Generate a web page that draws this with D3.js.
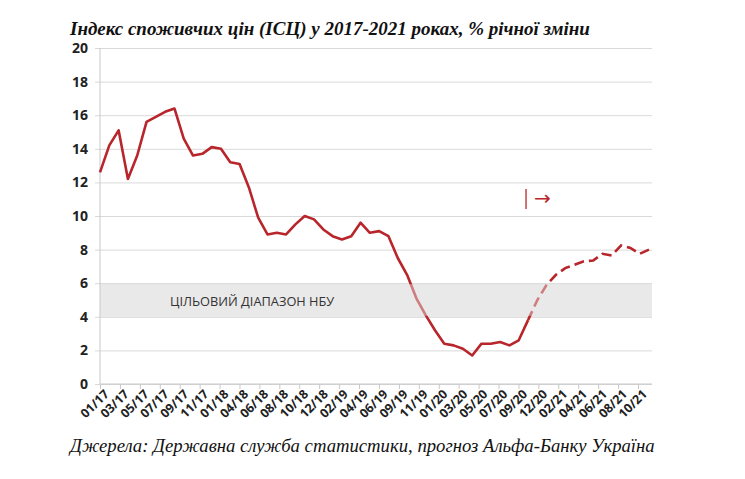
<!DOCTYPE html>
<html>
<head>
<meta charset="utf-8">
<script src="https://cdn.jsdelivr.net/npm/d3@7"></script>
<style>
  body { margin: 0; background: #fff; }
  svg { display: block; }
</style>
</head>
<body>
<div id="chart"></div>
<script>
// Monthly CPI, % y/y, Jan 2017 - Dec 2021 (from Nov 2020 - forecast)
var months = [
  '01/17','02/17','03/17','04/17','05/17','06/17','07/17','08/17','09/17','10/17','11/17','12/17',
  '01/18','02/18','03/18','04/18','05/18','06/18','07/18','08/18','09/18','10/18','11/18','12/18',
  '01/19','02/19','03/19','04/19','05/19','06/19','07/19','08/19','09/19','10/19','11/19','12/19',
  '01/20','02/20','03/20','04/20','05/20','06/20','07/20','08/20','09/20','10/20','11/20','12/20',
  '01/21','02/21','03/21','04/21','05/21','06/21','07/21','08/21','09/21','10/21','11/21','12/21'
];
var cpi = [
  12.6, 14.2, 15.1, 12.2, 13.6, 15.6, 15.9, 16.2, 16.4, 14.6, 13.6, 13.7,
  14.1, 14.0, 13.2, 13.1, 11.7, 9.9, 8.9, 9.0, 8.9, 9.5, 10.0, 9.8,
  9.2, 8.8, 8.6, 8.8, 9.6, 9.0, 9.1, 8.8, 7.5, 6.5, 5.1, 4.1,
  3.2, 2.4, 2.3, 2.1, 1.7, 2.4, 2.4, 2.5, 2.3, 2.6, 3.8, 5.0,
  5.9, 6.5, 6.9, 7.1, 7.3, 7.35, 7.75, 7.65, 8.25, 8.1, 7.75, 8.0
];
var forecastStart = '11/20';
var tickLabels = [
  '01/17','03/17','05/17','07/17','09/17','11/17','01/18','04/18','06/18','08/18',
  '10/18','12/18','02/19','04/19','06/19','09/19','11/19','01/20','03/20','05/20',
  '07/20','09/20','12/20','02/21','04/21','06/21','08/21','10/21'
];
var yTicks = [0, 2, 4, 6, 8, 10, 12, 14, 16, 18, 20];
var target = [4, 6];

var W = 745, H = 479;
var pLeft = 100, pRight = 652, pTop = 48, pBottom = 384;
var red = '#b8252b';

var data = months.map(function(m, i) { return {m: m, v: cpi[i]}; });
var fi = months.indexOf(forecastStart);

var svg = d3.select('#chart').append('svg')
  .attr('width', W).attr('height', H);

var x = d3.scalePoint().domain(months).range([pLeft, 649]);
var xt = d3.scalePoint().domain(tickLabels).range([pLeft, 638]);
var y = d3.scaleLinear().domain([0, 20]).range([pBottom, pTop]);

// title
svg.append('text')
  .attr('x', 70).attr('y', 35)
  .style('font-family', '"Liberation Serif", "Times New Roman", serif')
  .style('font-weight', 'bold').style('font-style', 'italic')
  .style('font-size', '19px').style('fill', '#111')
  .text('Індекс споживчих цін (ІСЦ) у 2017-2021 роках, % річної зміни');

// target band
svg.append('rect')
  .attr('x', pLeft).attr('width', pRight - pLeft)
  .attr('y', y(target[1])).attr('height', y(target[0]) - y(target[1]))
  .style('fill', '#e9e9e9');

// gridlines + y labels
var ya = svg.append('g')
  .attr('transform', 'translate(' + pLeft + ',0)')
  .call(d3.axisLeft(y).tickValues(yTicks).tickSize(-(pRight - pLeft)).tickPadding(12));
ya.select('.domain').remove();
ya.selectAll('.tick line').attr('x1', -5).style('stroke', '#d9d9d9');
ya.selectAll('.tick text')
  .style('font-family', '"Open Sans", sans-serif').style('font-weight', 'bold')
  .style('font-size', '14px').style('fill', '#222');

svg.append('line')
  .attr('x1', pLeft).attr('x2', pLeft).attr('y1', pTop).attr('y2', pBottom)
  .style('stroke', '#c8c8c8');

// x axis
var xa = svg.append('g')
  .attr('transform', 'translate(0,' + pBottom + ')')
  .call(d3.axisBottom(xt).tickSize(5).tickSizeOuter(0));
xa.select('.domain').attr('d', 'M' + pLeft + ',0H' + pRight).style('stroke', '#c8c8c8');
xa.selectAll('.tick line').style('stroke', '#c8c8c8');
xa.selectAll('.tick text')
  .attr('transform', 'rotate(-45)')
  .attr('text-anchor', 'end')
  .attr('dx', '-0.1em').attr('dy', '0.5em')
  .style('font-family', '"Open Sans", sans-serif').style('font-weight', 'bold')
  .style('font-size', '12.5px').style('fill', '#222');

// line
var line = d3.line().x(function(d) { return x(d.m); }).y(function(d) { return y(d.v); });

svg.append('path')
  .datum(data.slice(0, fi + 1))
  .attr('d', line)
  .style('fill', 'none').style('stroke', red).style('stroke-width', 2.6)
  .style('stroke-linejoin', 'round');

svg.append('path')
  .datum(data.slice(fi))
  .attr('d', line)
  .style('fill', 'none').style('stroke', red).style('stroke-width', 2.6)
  .style('stroke-dasharray', '10,5');

// band overlay fades the line where it crosses the target range
svg.append('rect')
  .attr('x', pLeft + 1).attr('width', pRight - pLeft - 1)
  .attr('y', y(target[1]) + 1).attr('height', y(target[0]) - y(target[1]) - 2)
  .style('fill', '#e9e9e9').style('opacity', 0.45);

svg.append('text')
  .attr('x', 170).attr('y', 306)
  .style('font-family', '"Open Sans", sans-serif')
  .style('font-size', '12.8px').style('fill', '#333')
  .text('ЦІЛЬОВИЙ ДІАПАЗОН НБУ');

// forecast marker
var mx = x(forecastStart) - 2;
svg.append('line')
  .attr('x1', mx).attr('x2', mx).attr('y1', 189).attr('y2', 209)
  .style('stroke', red).style('stroke-width', 1.3);
svg.append('text')
  .attr('x', mx + 8).attr('y', 205)
  .style('font-family', '"DejaVu Sans", sans-serif')
  .style('font-size', '20px').style('fill', red)
  .text('→');

// source
svg.append('text')
  .attr('x', 70).attr('y', 452)
  .style('font-family', '"Liberation Serif", "Times New Roman", serif')
  .style('font-style', 'italic')
  .style('font-size', '18.7px').style('fill', '#111')
  .text('Джерела: Державна служба статистики, прогноз Альфа-Банку Україна');
</script>
</body>
</html>
